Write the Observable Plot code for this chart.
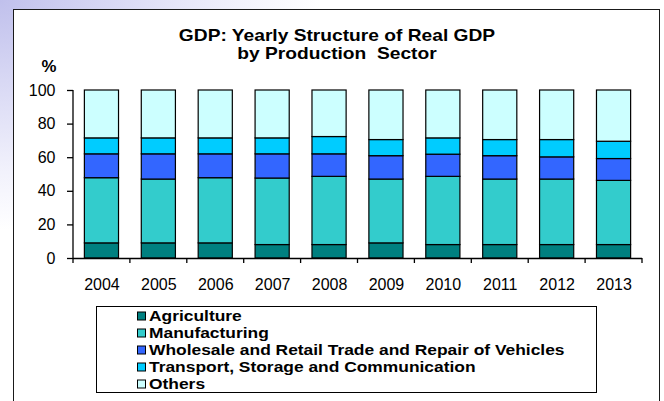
<!DOCTYPE html>
<html>
<head>
<meta charset="utf-8">
<script src="https://cdn.jsdelivr.net/npm/d3@7"></script>
<script src="https://cdn.jsdelivr.net/npm/@observablehq/plot@0.6"></script>
<style>
  html, body { margin: 0; padding: 0; background: #fff; }
  #wrap { position: relative; width: 664px; height: 401px; overflow: hidden;
    background: radial-gradient(ellipse 320px 230px at 0 0, #c0c0ec 0%, #d8d8f4 35%, #f2f2fc 75%, #ffffff 100%); }
  #box { position: absolute; left: 13px; top: 9px; width: 647px; height: 420px;
    border: 1.5px solid #1a1a1a; background: #fff; box-sizing: border-box; }
  #legendBox { position: absolute; left: 96px; top: 306px; width: 501px; height: 87px;
    border: 1.5px solid #000; background: #fff; box-sizing: border-box; }
  #wrap svg { position: absolute; left: 0; top: 0; }
</style>
</head>
<body>
<div id="wrap"><div id="box"></div><div id="legendBox"></div></div>
<script>
const years = ["2004","2005","2006","2007","2008","2009","2010","2011","2012","2013"];
const sectors = ["Agriculture","Manufacturing","Wholesale and Retail Trade and Repair of Vehicles","Transport, Storage and Communication","Others"];
const colors = ["#008080","#33CCCC","#3366FF","#00CCFF","#CCFFFF"];
const agriculture   = [9, 9, 9, 8, 8, 9, 8, 8, 8, 8];
const manufacturing = [38.8, 38, 38.8, 39.6, 40.6, 38, 40.6, 39, 39, 38.2];
const wholesale     = [14.2, 15, 14.2, 14.4, 13.4, 13.9, 13.2, 13.9, 13.2, 13];
const transport     = [9.5, 9.5, 9.5, 9.5, 10.3, 9.6, 9.7, 9.6, 10.3, 10.3];
const others        = [28.5, 28.5, 28.5, 28.5, 27.7, 29.5, 28.5, 29.5, 29.5, 30.5];
const yTicks = [0, 20, 40, 60, 80, 100];
const titleLines = ["GDP: Yearly Structure of Real GDP", "by Production  Sector"];
const yUnit = "%";

const series = [agriculture, manufacturing, wholesale, transport, others];
const rows = [];
years.forEach((yr, i) => sectors.forEach((s, k) => rows.push({year: yr, sector: s, value: series[k][i]})));

const FONT = "'Liberation Sans', Arial, Helvetica, sans-serif";
const W = 664, H = 401;

const chart = Plot.plot({
  width: W, height: H,
  marginLeft: 73, marginRight: 22, marginTop: 90, marginBottom: 143,
  style: {background: "transparent", fontFamily: FONT, fontSize: "16px", color: "#000", overflow: "visible"},
  x: {domain: years, paddingInner: 0.4, paddingOuter: 0.2, round: false, label: null},
  y: {domain: [0, 100], ticks: yTicks, label: null},
  color: {domain: sectors, range: colors},
  marks: [
    Plot.barY(rows, {x: "year", y: "value", fill: "sector", stroke: "#000", strokeWidth: 1.2}),
    Plot.ruleY([0], {stroke: "#000", strokeWidth: 1.3}),
    Plot.axisX({tickSize: 0, tickPadding: 20, label: null}),
    Plot.axisY({ticks: yTicks, tickSize: 6, tickPadding: 12, label: null, strokeWidth: 1.3})
  ]
});
document.getElementById("wrap").appendChild(chart);

const svg = d3.select(chart);
const xs = chart.scale("x"), ys = chart.scale("y");
const r0 = xs.range[0], r1 = xs.range[1];
const y0 = ys.apply(0), y100 = ys.apply(100);
const g = svg.append("g").attr("stroke", "#000").attr("stroke-width", 1.3);
// y axis line
g.append("line").attr("x1", r0).attr("x2", r0).attr("y1", y0).attr("y2", y100);
// category boundary ticks
d3.range(years.length + 1).forEach(i => {
  const x = r0 + i * (r1 - r0) / years.length;
  g.append("line").attr("x1", x).attr("x2", x).attr("y1", y0).attr("y2", y0 + 5);
});

// Title
const cx = 337;
const tg = svg.append("g").attr("font-family", FONT).attr("font-weight", "bold").attr("font-size", 16).attr("fill", "#000");
[[titleLines[0], 35], [titleLines[1], 53.5]].forEach(([t, c]) => {
  tg.append("text").attr("text-anchor", "middle").attr("xml:space", "preserve").style("white-space", "pre")
    .attr("transform", `translate(${cx},${c + 0.358 * 16}) scale(1.2,1)`).text(t);
});
tg.append("text").attr("text-anchor", "middle")
  .attr("transform", `translate(49,${66 + 0.358 * 16}) scale(1.05,1)`).text(yUnit);

// Legend
const lg = svg.append("g").attr("text-anchor", "start");
sectors.forEach((s, k) => {
  const c = 316 + k * 17;
  lg.append("rect").attr("x", 137.5).attr("y", c - 4).attr("width", 8).attr("height", 8)
    .attr("fill", colors[k]).attr("stroke", "#000").attr("stroke-width", 1);
  lg.append("text").attr("text-anchor", "start").attr("font-family", FONT).attr("font-weight", "bold").attr("font-size", 15)
    .attr("fill", "#000")
    .attr("transform", `translate(149,${c + 0.358 * 15}) scale(1.16,1)`).text(s);
});
</script>
</body>
</html>
